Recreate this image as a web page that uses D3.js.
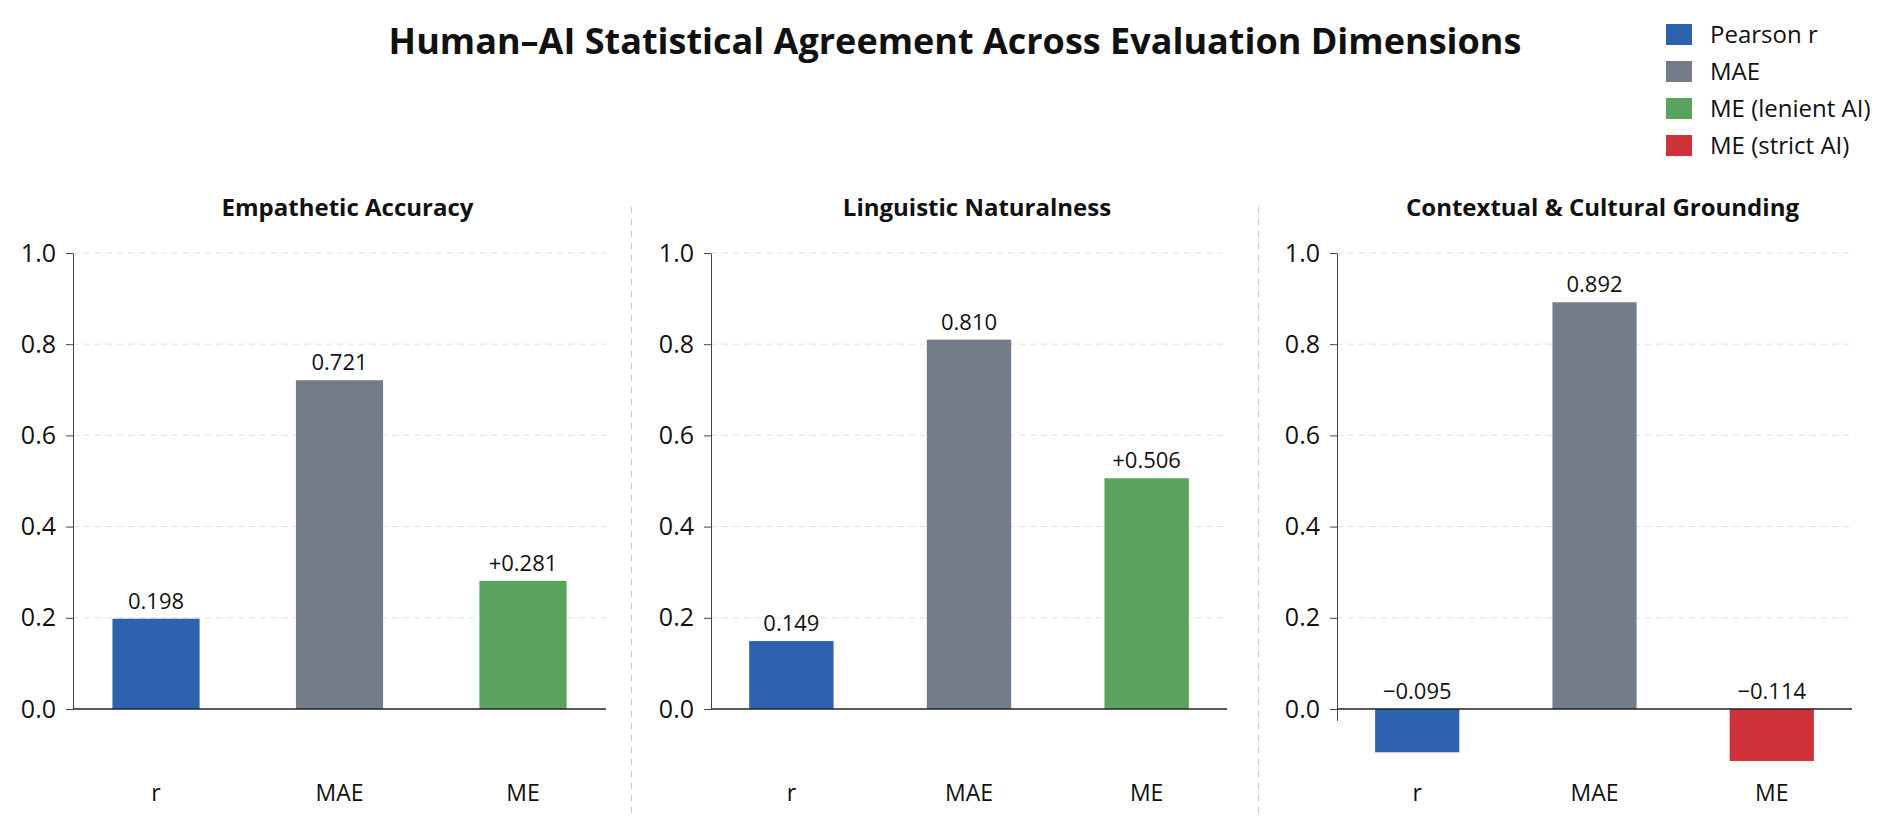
<!DOCTYPE html>
<html>
<head>
<meta charset="utf-8">
<script src="https://cdn.jsdelivr.net/npm/d3@7"></script>
<style>
  body { margin: 0; background: #fff; }
  text { font-family: "Open Sans", "Noto Sans", sans-serif; fill: #111; }
</style>
</head>
<body>
<div id="chart"></div>
<script>
// data
var panelTitles = ["Empathetic Accuracy", "Linguistic Naturalness", "Contextual & Cultural Grounding"];
var metrics = ["r", "MAE", "ME"];
var pearsonR = [0.198, 0.149, -0.095];
var maeVals = [0.721, 0.810, 0.892];
var meVals = [0.281, 0.506, -0.114];
var yTicks = [0, 0.2, 0.4, 0.6, 0.8, 1.0];
var legendLabels = ["Pearson r", "MAE", "ME (lenient AI)", "ME (strict AI)"];

var colors = {r: "#2d63ae", mae: "#757c89", lenient: "#5aa35c", strict: "#cf3139"};
var legendColors = [colors.r, colors.mae, colors.lenient, colors.strict];

var W = 1886, H = 834;
// plot areas of the three panels (left, right), in page pixels
var panelBox = [[73, 606], [711, 1227], [1337, 1852]];
var separators = [631, 1258];
var plotTop = 253, plotZero = 709;

var svg = d3.select("#chart").append("svg")
    .attr("width", W)
    .attr("height", H);

// title
svg.append("text")
    .attr("x", 955)
    .attr("y", 54)
    .attr("text-anchor", "middle")
    .style("font-size", "36px")
    .style("font-weight", 700)
    .text("Human\u2013AI Statistical Agreement Across Evaluation Dimensions");

// legend
var legend = svg.append("g").attr("transform", "translate(1666,24)");
legend.selectAll("rect")
  .data(legendLabels)
  .enter().append("rect")
    .attr("x", 0)
    .attr("y", (d, i) => i * 37)
    .attr("width", 26)
    .attr("height", 21)
    .attr("fill", (d, i) => legendColors[i]);
legend.selectAll("text")
  .data(legendLabels)
  .enter().append("text")
    .attr("x", 44)
    .attr("y", (d, i) => i * 37 + 19)
    .style("font-size", "24px")
    .text(d => d);

// separators between panels
separators.forEach(function(sx) {
  svg.append("line")
      .attr("x1", sx + 0.5).attr("x2", sx + 0.5)
      .attr("y1", 207).attr("y2", 818)
      .attr("stroke", "#c8c8c8")
      .attr("stroke-width", 1)
      .attr("stroke-dasharray", "6,6");
});

var y = d3.scaleLinear()
    .domain([0, 1])
    .range([plotZero, plotTop]);

function fmt(v, signed) {
  var s = d3.format(".3f")(Math.abs(v));
  if (v < 0) return "\u2212" + s;
  return signed ? "+" + s : s;
}

panelTitles.forEach(function(title, i) {
  var left = panelBox[i][0], right = panelBox[i][1];
  var g = svg.append("g");

  var bars = [
    {m: "r", v: pearsonR[i], color: colors.r, label: fmt(pearsonR[i], false)},
    {m: "MAE", v: maeVals[i], color: colors.mae, label: fmt(maeVals[i], false)},
    {m: "ME", v: meVals[i], color: meVals[i] >= 0 ? colors.lenient : colors.strict, label: fmt(meVals[i], true)}
  ];

  var x = d3.scaleBand()
      .domain(metrics)
      .range([left, right])
      .paddingInner(0.525)
      .paddingOuter(0.215);

  // gridlines
  g.append("g").selectAll("line")
    .data(yTicks.filter(t => t > 0))
    .enter().append("line")
      .attr("x1", left).attr("x2", right)
      .attr("y1", d => y(d)).attr("y2", d => y(d))
      .attr("stroke", "#e2e2e2")
      .attr("stroke-dasharray", "6,5");

  // y axis
  var lo = d3.min(bars, d => d.v) < 0 ? -0.025 : 0;
  var yAx = y.copy().domain([lo, 1]).range([y(lo), y(1)]);
  var yAxis = g.append("g")
      .attr("transform", "translate(" + left + ",0)")
      .call(d3.axisLeft(yAx).tickValues(yTicks).tickSize(7).tickSizeOuter(0).tickPadding(10).tickFormat(d3.format(".1f")));
  yAxis.select(".domain").attr("stroke", "#444");
  yAxis.selectAll(".tick line").attr("stroke", "#444");
  yAxis.selectAll(".tick text")
      .style("font-size", "25px")
      .attr("fill", "#111");

  // panel title
  g.append("text")
      .attr("x", (left + right) / 2 + 8)
      .attr("y", 216)
      .attr("text-anchor", "middle")
      .style("font-size", "24px")
      .style("font-weight", 700)
      .text(title);

  // bars
  g.selectAll(".bar")
    .data(bars)
    .enter().append("rect")
      .attr("class", "bar")
      .attr("x", d => x(d.m))
      .attr("y", d => y(Math.max(0, d.v)))
      .attr("width", x.bandwidth())
      .attr("height", d => Math.abs(y(d.v) - y(0)))
      .attr("fill", d => d.color);

  // zero line
  g.append("line")
      .attr("x1", left).attr("x2", right)
      .attr("y1", y(0)).attr("y2", y(0))
      .attr("stroke", "#222")
      .attr("stroke-width", 1.5);

  // value labels
  g.selectAll(".val")
    .data(bars)
    .enter().append("text")
      .attr("class", "val")
      .attr("x", d => x(d.m) + x.bandwidth() / 2)
      .attr("y", d => y(Math.max(0, d.v)) - 10)
      .attr("text-anchor", "middle")
      .style("font-size", "22px")
      .text(d => d.label);

  // category labels
  g.selectAll(".cat")
    .data(metrics)
    .enter().append("text")
      .attr("class", "cat")
      .attr("x", d => x(d) + x.bandwidth() / 2)
      .attr("y", 801)
      .attr("text-anchor", "middle")
      .style("font-size", "23px")
      .text(d => d);
});
</script>
</body>
</html>
